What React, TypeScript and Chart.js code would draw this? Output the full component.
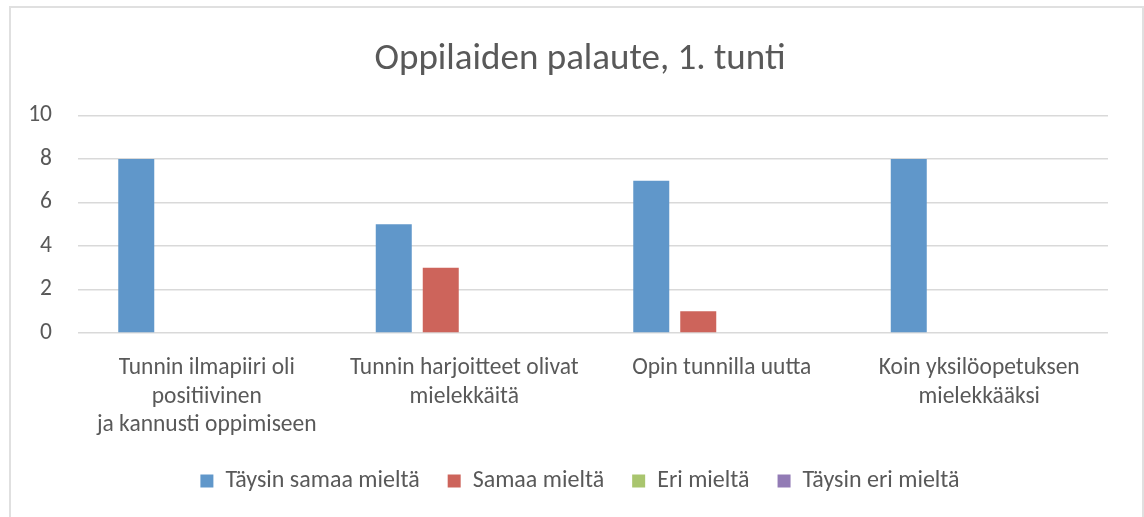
import React, { useEffect, useRef } from "react";
import { Chart, registerables } from "chart.js";

Chart.register(...registerables);

const title = "Oppilaiden palaute, 1. tunti";
const categories: (string | string[])[] = [
  ["Tunnin ilmapiiri oli", "positiivinen", "ja kannusti oppimiseen"],
  ["Tunnin harjoitteet olivat", "mielekkäitä"],
  "Opin tunnilla uutta",
  ["Koin yksilöopetuksen", "mielekkääksi"],
];
const seriesNames = ["Täysin samaa mieltä", "Samaa mieltä", "Eri mieltä", "Täysin eri mieltä"];
const taysinSamaa = [8, 5, 7, 8];
const samaa = [0, 3, 1, 0];
const eri = [0, 0, 0, 0];
const taysinEri = [0, 0, 0, 0];
const seriesColors = ["#6097CA", "#CD645B", "#A9C56E", "#927BB5"];
const yTicks = [0, 2, 4, 6, 8, 10];

const FONT = "Carlito, Lato, 'Noto Sans', sans-serif";
const TEXT = "#595959";

export default function App() {
  const ref = useRef<HTMLCanvasElement | null>(null);
  useEffect(() => {
    if (!ref.current) return;
    const values = [taysinSamaa, samaa, eri, taysinEri];
    const chart = new Chart(ref.current, {
      type: "bar",
      data: {
        labels: categories,
        datasets: seriesNames.map((name, i) => ({
          label: name,
          data: values[i],
          backgroundColor: seriesColors[i],
          borderWidth: 0,
          categoryPercentage: 0.73,
          barPercentage: 0.766,
          yAxisID: "y",
        })),
      },
      options: {
        animation: false,
        responsive: false,
        layout: { padding: { left: 16, right: 0, top: 0, bottom: 14 } },
        plugins: {
          title: {
            display: true,
            text: title,
            color: TEXT,
            font: { family: FONT, size: 37, weight: "normal", lineHeight: 1.2 },
            padding: { top: 37.8, bottom: 33.3 },
          },
          legend: {
            position: "bottom",
            labels: {
              boxWidth: 13,
              boxHeight: 13,
              padding: 28,
              color: TEXT,
              font: { family: FONT, size: 24 },
            },
          },
          tooltip: { enabled: false },
        },
        scales: {
          x: {
            grid: { display: false, drawTicks: false },
            border: { display: false },
            ticks: {
              color: TEXT,
              padding: 21,
              maxRotation: 0,
              autoSkip: false,
              font: { family: FONT, size: 23.5, lineHeight: 1.21 },
            },
            afterFit: (s: any) => {
              s.height = 108;
            },
          },
          y: {
            min: 0,
            max: 10,
            afterBuildTicks: (s: any) => {
              s.ticks = yTicks.map((v) => ({ value: v }));
            },
            grid: { color: "#d9d9d9", lineWidth: 1.5, drawTicks: false },
            border: { display: false },
            ticks: {
              color: TEXT,
              padding: 26,
              font: { family: FONT, size: 23.5 },
            },
            afterFit: (s: any) => {
              s.width = 62;
            },
          },
          yRight: {
            type: "linear",
            position: "right",
            display: true,
            grid: { display: false, drawTicks: false },
            border: { display: false },
            ticks: { display: false },
            afterFit: (s: any) => {
              s.width = 36;
            },
          },
        },
      },
    });
    return () => chart.destroy();
  }, []);

  return (
    <div style={{ position: "absolute", left: 0, top: 0, width: 1144, height: 517, background: "#fff", overflow: "hidden" }}>
      <div
        style={{
          position: "absolute",
          left: 9,
          top: 6,
          width: 1131,
          height: 600,
          border: "2px solid #e0e0e0",
          boxSizing: "content-box",
        }}
      />
      <canvas ref={ref} width={1144} height={517} style={{ position: "absolute", left: 0, top: 0 }} />
    </div>
  );
}
